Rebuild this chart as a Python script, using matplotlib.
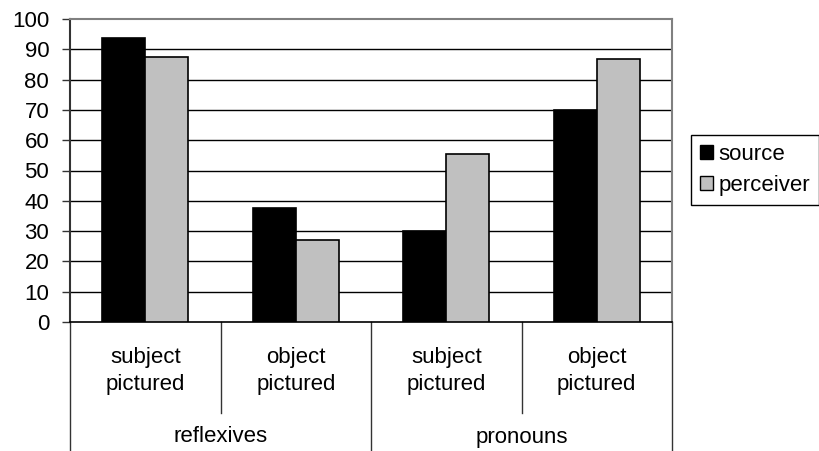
import matplotlib
matplotlib.use("Agg")
import matplotlib.pyplot as plt
from matplotlib.patches import Patch
import matplotlib.transforms as mtransforms

plt.rcParams['font.family'] = ['Liberation Sans', 'DejaVu Sans']

groups = ["reflexives", "pronouns"]
subcats = ["subject\npictured", "object\npictured", "subject\npictured", "object\npictured"]
series_names = ["source", "perceiver"]
source = [93.7, 37.7, 30, 70]
perceiver = [87.4, 27, 55.4, 86.7]
yticks = [0, 10, 20, 30, 40, 50, 60, 70, 80, 90, 100]

W, H = 820, 451
fig = plt.figure(figsize=(W / 100, H / 100), dpi=100)
L, R, T, B = 70, 672, 19, 322
ax = fig.add_axes([L / W, 1 - B / H, (R - L) / W, (B - T) / H])

fs = 16
n = len(source)
x = list(range(n))
bw = 1 / 3.5
ax.bar([i - bw / 2 for i in x], source, width=bw, color='black', edgecolor='black',
       linewidth=1.2, zorder=3)
ax.bar([i + bw / 2 for i in x], perceiver, width=bw, color='#C0C0C0', edgecolor='black',
       linewidth=1.2, zorder=3)

ax.set_xlim(-0.5, n - 0.5)
ax.set_ylim(0, 100)
ax.set_yticks(yticks)
ax.set_yticklabels([str(v) for v in yticks], fontsize=fs)
ax.tick_params(axis='y', length=6, width=1, color='#333333', pad=9)
ax.set_xticks([])
for v in yticks[1:-1]:
    ax.axhline(v, color='black', linewidth=1, zorder=1)

for s in ['top', 'right']:
    ax.spines[s].set_color('#808080')
    ax.spines[s].set_linewidth(1.5)
ax.spines['left'].set_color('#333333')
ax.spines['left'].set_linewidth(1.5)
ax.spines['bottom'].set_color('black')
ax.spines['bottom'].set_linewidth(1.2)

trans = mtransforms.blended_transform_factory(ax.transData, ax.transAxes)
y_inner = -(413 - B) / (B - T)
y_outer = -(451 - B) / (B - T)
for xb in [0.5, 2.5]:
    ax.plot([xb, xb], [0, y_inner], transform=trans, color='#333333', linewidth=1,
            clip_on=False)
for xb in [-0.5, 1.5, n - 0.5]:
    ax.plot([xb, xb], [0, y_outer], transform=trans, color='#333333', linewidth=1,
            clip_on=False)

y_sub = -(371 - B) / (B - T)
for i, lab in enumerate(subcats):
    ax.text(i, y_sub, lab, transform=trans, ha='center', va='center', fontsize=fs,
            linespacing=1.4)
y_grp = -(437 - B) / (B - T)
for gi, g in enumerate(groups):
    ax.text(2 * gi + 0.5, y_grp, g, transform=trans, ha='center', va='center', fontsize=fs)

handles = [Patch(facecolor='black', edgecolor='black', linewidth=1),
           Patch(facecolor='#C0C0C0', edgecolor='black', linewidth=1)]
leg = fig.legend(handles, series_names, loc='center',
                 bbox_to_anchor=(755 / W, 1 - 170 / H), fontsize=fs,
                 frameon=True, fancybox=False, edgecolor='black', framealpha=1,
                 handlelength=0.6, handleheight=0.6, handletextpad=0.25,
                 labelspacing=0.45, borderpad=0.4, borderaxespad=0)
leg.get_frame().set_linewidth(1)

fig.savefig("out.png", dpi=100)
